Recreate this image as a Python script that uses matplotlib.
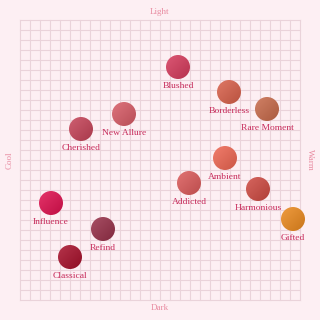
import numpy as np
import matplotlib
matplotlib.use('Agg')
import matplotlib.pyplot as plt
from matplotlib.patches import Circle
from matplotlib.colors import to_rgb

# shade names and their position on the cool/warm (x) - dark/light (y) map
NAMES = ['Blushed', 'Borderless', 'Rare Moment', 'New Allure', 'Cherished',
         'Ambient', 'Addicted', 'Harmonious', 'Gifted', 'Influence',
         'Refind', 'Classical']
WARMTH = [1.8, 6.9, 10.7, -3.6, -7.9, 6.5, 2.9, 9.8, 13.3, -10.9, -5.7, -9.0]
LIGHTNESS = [9.3, 6.8, 5.1, 4.6, 3.1, 0.2, -2.3, -2.9, -5.9, -4.3, -6.9, -9.7]
COLORS = ['#d63a5c', '#d9604a', '#c86a4a', '#d85b66', '#c64358', '#ef6652',
          '#dc5a5a', '#cf4a42', '#ec8a1e', '#e0104f', '#983049', '#a8102b']

BG = '#fdeff3'
GRID = '#ead3da'
LABEL = '#c62a5a'
AXIS_LABEL = '#e88aa0'
R = 1.2

fig = plt.figure(figsize=(3.2, 3.2), dpi=100, facecolor=BG)
ax = fig.add_axes([0, 0, 1, 1])
ax.set_facecolor(BG)
ax.set_axis_off()

grid = np.arange(-14, 15)
for v in grid:
    ax.plot([v, v], [-14, 14], color=GRID, lw=0.8, zorder=0)
    ax.plot([-14, 14], [v, v], color=GRID, lw=0.8, zorder=0)

# simple diagonal shading inside each dot
g = np.linspace(0, 1, 64)
gx, gy = np.meshgrid(g, g)
shade = (gx + gy) / 2

for name, x, y, c in zip(NAMES, WARMTH, LIGHTNESS, COLORS):
    base = np.array(to_rgb(c))
    light = base + (1 - base) * 0.15
    dark = base * 0.85
    img = light[None, None, :] * (1 - shade[..., None]) + dark[None, None, :] * shade[..., None]
    im = ax.imshow(img, extent=(x - R, x + R, y - R, y + R), origin='upper',
                   zorder=2, interpolation='bilinear')
    circ = Circle((x, y), R, facecolor='none', edgecolor='none', zorder=2)
    ax.add_patch(circ)
    im.set_clip_path(circ)
    ax.text(x, y - 1.9, name, ha='center', va='center', fontsize=6.8,
            family='Liberation Serif', color=LABEL, zorder=3)

ax.set_xlim(-16, 16)
ax.set_ylim(-16, 16)
ax.set_aspect('equal')

ax.text(0, -14.8, 'Dark', ha='center', va='center', fontsize=6.5,
        family='Liberation Serif', color=AXIS_LABEL)
ax.text(0, 14.8, 'Light', ha='center', va='center', fontsize=6.5,
        family='Liberation Serif', color=AXIS_LABEL)
ax.text(-15, 0, 'Cool', ha='center', va='center', fontsize=6.5,
        family='Liberation Serif', color=AXIS_LABEL, rotation=90)
ax.text(15, 0, 'Warm', ha='center', va='center', fontsize=6.5,
        family='Liberation Serif', color=AXIS_LABEL, rotation=-90)

fig.savefig('out.png', dpi=100, facecolor=BG)
